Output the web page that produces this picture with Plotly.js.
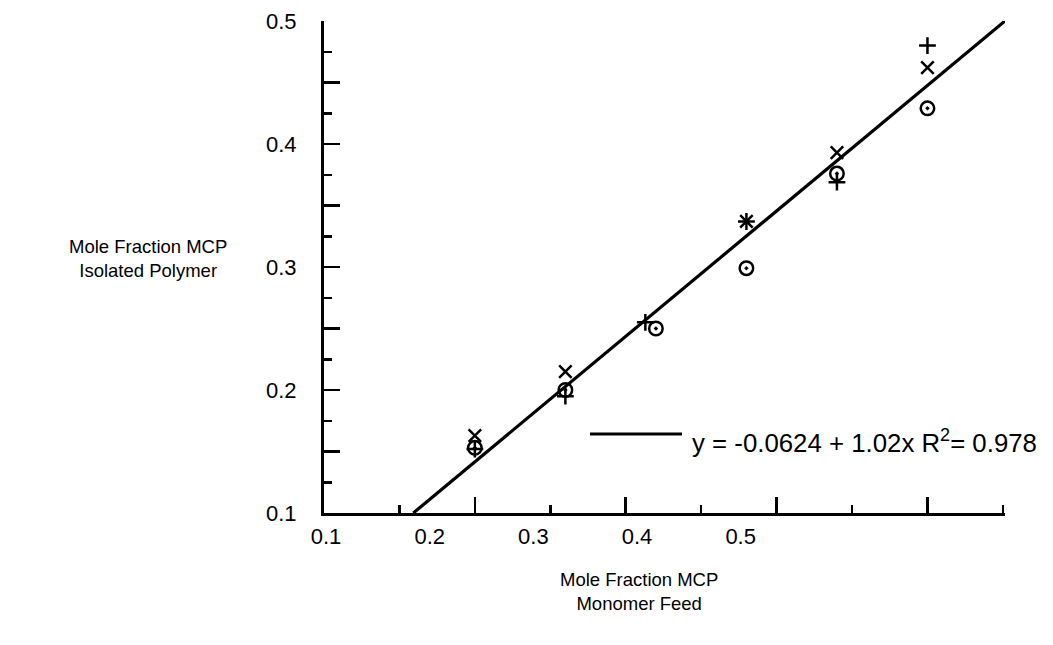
<!DOCTYPE html>
<html>
<head>
<meta charset="utf-8">
<script src="https://cdn.plot.ly/plotly-3.0.1.min.js"></script>
<style>html,body{margin:0;padding:0;background:#fff;}#chart{width:1053px;height:645px;}</style>
</head>
<body>
<div id="chart"></div>
<script>
// ---- data ----
const circleX = [0.20, 0.26, 0.32, 0.38, 0.44, 0.50];
const circleY = [0.153, 0.200, 0.250, 0.299, 0.376, 0.429];
const plusX   = [0.20, 0.26, 0.313, 0.38, 0.44, 0.50];
const plusY   = [0.152, 0.195, 0.255, 0.337, 0.369, 0.480];
const crossX  = [0.20, 0.26, 0.38, 0.44, 0.50];
const crossY  = [0.163, 0.215, 0.337, 0.393, 0.462];
const fitIntercept = -0.0624;
const fitSlope = 1.02;
const fitR2 = 0.978;
const yTickVals = [0.1, 0.15, 0.2, 0.25, 0.3, 0.35, 0.4, 0.45, 0.5];
const yTickText = ['0.1', '', '0.2', '', '0.3', '', '0.4', '', '0.5'];
const xLabelVals = [0.1, 0.2, 0.3, 0.4, 0.5];
const xLabelText = ['0.1', '0.2', '0.3', '0.4', '0.5'];
const yRange = [0.1, 0.5];

const FONT = 'Liberation Sans, Arial, Helvetica, sans-serif';

// regression line spans the y range of the plot
const fitX = yRange.map(v => (v - fitIntercept) / fitSlope);
const fitY = fitX.map(v => fitIntercept + fitSlope * v);

const mk = (sym, size) => ({symbol: sym, size: size, color: '#000', line: {color: '#000', width: 2.5}});

const traces = [
  {x: fitX, y: fitY, mode: 'lines', line: {color: '#000', width: 3.2}, showlegend: false, hoverinfo: 'skip'},
  {x: circleX, y: circleY, mode: 'markers', marker: mk('circle-open-dot', 13.5), showlegend: false},
  {x: plusX, y: plusY, mode: 'markers', marker: mk('cross-thin-open', 12), showlegend: false},
  {x: crossX, y: crossY, mode: 'markers', marker: mk('x-thin-open', 12.5), showlegend: false},
  // invisible trace carrying the offset tick labels of the original print
  {x: xLabelVals, y: xLabelVals.map(() => yRange[0]), xaxis: 'x2', yaxis: 'y', mode: 'markers',
   marker: {opacity: 0}, showlegend: false, hoverinfo: 'skip'}
];

const layout = {
  width: 1053, height: 645,
  margin: {l: 324, r: 48, t: 21, b: 132, pad: 0},
  paper_bgcolor: '#fff', plot_bgcolor: '#fff',
  font: {family: FONT, color: '#000', size: 22},
  showlegend: false,
  xaxis: {
    range: [0.1, 0.5514], showgrid: false, zeroline: false,
    showline: true, linecolor: '#000', linewidth: 3,
    ticks: 'inside', ticklen: 16, tickwidth: 2.5, tickcolor: '#000',
    tick0: 0.1, dtick: 0.1, showticklabels: false,
    minor: {ticks: 'inside', ticklen: 8, tickwidth: 2.5, tickcolor: '#000', dtick: 0.05, tick0: 0.1, showgrid: false}
  },
  xaxis2: {
    overlaying: 'x', anchor: 'y', side: 'bottom',
    range: [0.098, 0.755], showgrid: false, zeroline: false, showline: false,
    ticks: '', tickmode: 'array', tickvals: xLabelVals, ticktext: xLabelText,
    tickfont: {family: FONT, size: 22, color: '#000'}, ticklabelstandoff: 8
  },
  yaxis: {
    range: yRange, showgrid: false, zeroline: false,
    showline: true, linecolor: '#000', linewidth: 3,
    ticks: 'inside', ticklen: 16, tickwidth: 2.5, tickcolor: '#000',
    tickmode: 'array', tickvals: yTickVals, ticktext: yTickText,
    tickfont: {family: FONT, size: 22, color: '#000'}, ticklabelstandoff: 20,
    minor: {ticks: 'inside', ticklen: 8, tickwidth: 2.5, tickcolor: '#000', dtick: 0.025, tick0: 0.1, showgrid: false}
  },
  shapes: [
    {type: 'line', xref: 'paper', yref: 'paper', x0: 0.3906, x1: 0.5257, y0: 0.1606, y1: 0.1606,
     line: {color: '#000', width: 3}}
  ],
  annotations: [
    {xref: 'paper', yref: 'paper', x: 0.5374, y: 0.146, xanchor: 'left', yanchor: 'middle', showarrow: false,
     text: 'y = ' + fitIntercept + ' + ' + fitSlope + 'x R<sup>2</sup>= ' + fitR2,
     font: {family: FONT, size: 25.8, color: '#000'}},
    {xref: 'paper', yref: 'paper', x: -0.258, y: 0.518, xanchor: 'center', yanchor: 'middle', showarrow: false,
     text: 'Mole Fraction MCP<br>Isolated Polymer', align: 'center',
     font: {family: FONT, size: 18.5, color: '#000'}},
    {xref: 'paper', yref: 'paper', x: 0.4626, y: -0.1600, xanchor: 'center', yanchor: 'middle', showarrow: false,
     text: 'Mole Fraction MCP<br>Monomer Feed', align: 'center',
     font: {family: FONT, size: 18.5, color: '#000'}}
  ]
};

Plotly.newPlot('chart', traces, layout, {displayModeBar: false, staticPlot: true});
</script>
</body>
</html>
